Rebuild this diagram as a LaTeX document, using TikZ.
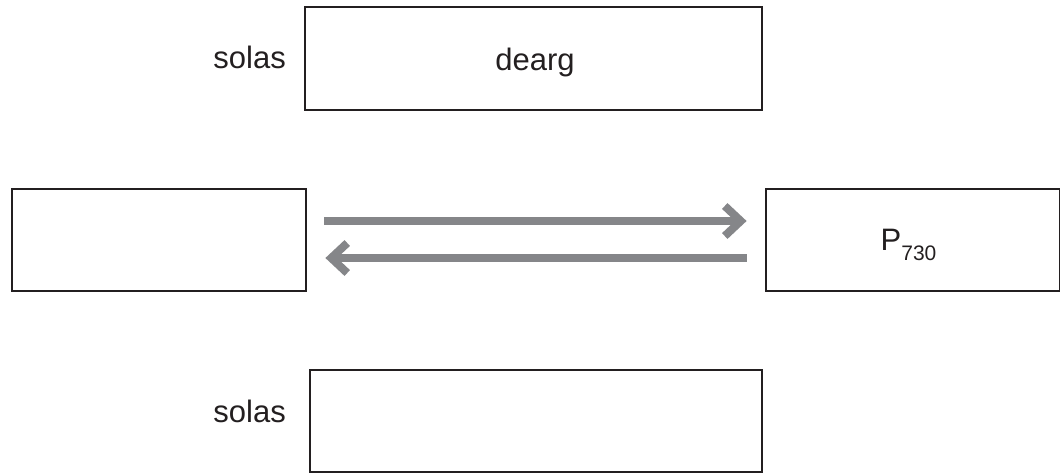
\documentclass[tikz,border=0pt]{standalone}
\usepackage{fontspec}
\setmainfont{Liberation Sans}
\usetikzlibrary{arrows.meta}
\definecolor{boxline}{HTML}{231F20}
\definecolor{arrgray}{HTML}{858689}
\tikzset{
  box/.style={draw=boxline, line width=2.8pt, inner sep=0pt, minimum width=#1},
  box/.default=294pt,
  lbl/.style={inner sep=0pt, text=boxline, font=\fontsize{31}{37}\selectfont},
  arr/.style={draw=arrgray, line width=8pt, line cap=butt,
    -{Straight Barb[sharp, length=16pt, width=30pt]}}
}
\begin{document}
\begin{tikzpicture}[x=1pt,y=-1pt]
\useasboundingbox (0,0) rectangle (1060,472);
% boxes
\node[box=457pt, minimum height=103pt] (T) at (533.5,58.5) {};
\node[box, minimum height=102pt] (L) at (159,240) {};
\node[box, minimum height=102pt] (R) at (913,240) {};
\node[box=452pt, minimum height=102pt] (B) at (536,421) {};
% labels
\node[lbl, anchor=base east] (s1) at (286,68) {solas};
\node[lbl, anchor=base] (d) at (535,70) {dearg};
\node[lbl, anchor=base east] (s2) at (286,422) {solas};
\node[lbl, anchor=base west] (p) at (880.5,250) {P\raisebox{-10pt}{\fontsize{21}{25}\selectfont 730}};
% arrows
\draw[arr] ([shift={(17,-19)}]L.east) -- ([shift={(-18,-19)}]R.west);
\draw[arr] ([shift={(-18,18)}]R.west) -- ([shift={(18,18)}]L.east);
\end{tikzpicture}
\end{document}
